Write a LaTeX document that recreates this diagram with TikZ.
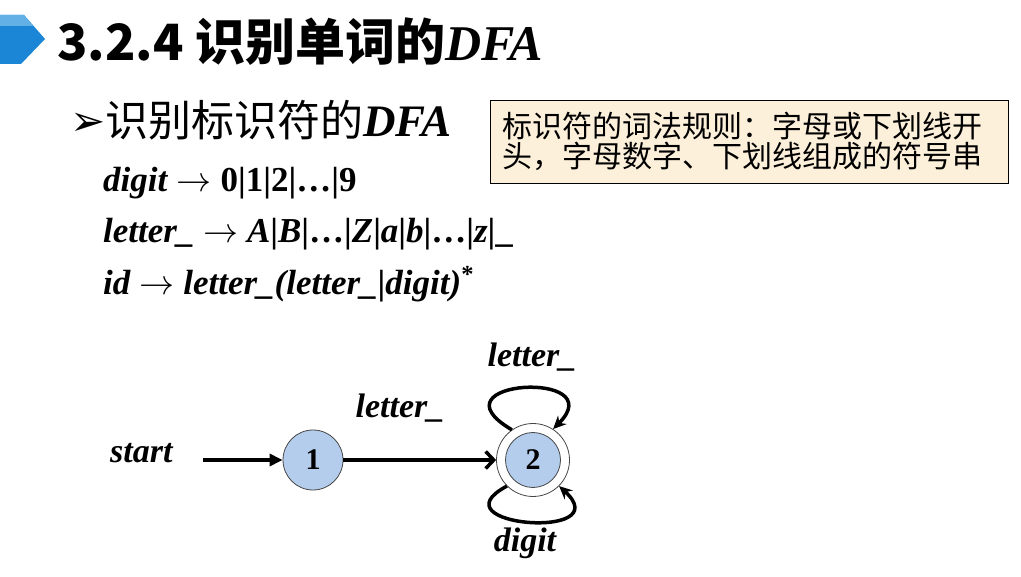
\documentclass[tikz,border=0pt]{standalone}
\usepackage{fix-cm}
\usepackage{fontspec}
\setmainfont{Liberation Serif}
\newfontfamily\cjk{Noto Sans CJK SC}
\newfontfamily\dingfont{DejaVu Sans}
\usetikzlibrary{arrows.meta}

\definecolor{icondark}{RGB}{28,134,214}
\definecolor{iconlight}{RGB}{98,176,229}
\definecolor{stateblue}{RGB}{181,205,236}
\definecolor{stateline}{RGB}{70,70,70}
\definecolor{notefill}{RGB}{253,240,219}

\tikzset{
  txt/.style={inner sep=0pt, anchor=base west},
  lbl/.style={inner sep=0pt, anchor=base, font=\fontsize{34}{34}\selectfont\bfseries\itshape},
  dfastate/.style={circle, draw=stateline, fill=stateblue, line width=0.8pt, minimum size=#1, inner sep=0pt, font=\fontsize{30}{30}\selectfont\bfseries},
  notebox/.style={draw=black, line width=0.8pt, fill=notefill, text width=494pt, inner xsep=12pt, inner ysep=0pt, minimum height=83pt, align=left, font=\cjk\fontsize{30}{30}\selectfont},
  startarrow/.style={line width=3.5pt, -{Triangle[length=13pt,width=12pt]}},
  trans/.style={line width=3.5pt, -{Straight Barb[length=8pt,width=17pt]}},
  selfloop/.style={line width=3.5pt, -{Stealth[length=13pt,width=12pt]}}
}
\newcommand{\rulefont}{\fontsize{35}{35}\selectfont\bfseries}
\newcommand{\ruleto}{\ $\rightarrow$\ }

\begin{document}
\begin{tikzpicture}[x=1pt,y=1pt]
\useasboundingbox (0,0) rectangle (1021,-577);
% title bar
\fill[icondark] (0,-15) -- (24,-15) -- (45,-39) -- (21,-64) -- (0,-64) -- cycle;
\fill[iconlight] (0,-15) -- (24,-15) -- (33,-26) -- (0,-26) -- cycle;
\node[txt, font=\fontsize{50}{50}\selectfont] (title) at (57,-61) {{\cjk\bfseries 3.2.4 识别单词的}{\bfseries\itshape DFA}};

% heading and rules
\node[txt, font=\fontsize{43}{43}\selectfont] (head) at (70,-137) {{\dingfont\fontsize{42}{42}\selectfont\raisebox{1pt}{➢}}{\cjk 识别标识符的}{\fontsize{45}{45}\selectfont\bfseries\itshape DFA}};
\node[txt, font=\rulefont] (rdigit) at (103,-192) {\textit{digit}\ruleto 0|1|2|…|9};
\node[txt, font=\rulefont] (rletter) at (103,-243) {\textit{letter\_}\ruleto\textit{A}|\textit{B}|…|\textit{Z}|\textit{a}|\textit{b}|…|\textit{z}|\_};
\node[txt, font=\rulefont] (rid) at (103,-295) {\textit{id}\ruleto\textit{letter\_(letter\_}|\textit{digit)}\textsuperscript{*}};

% note
\node[notebox] (note) at (749,-141.5) {标识符的词法规则：字母或下划线开\\头，字母数字、下划线组成的符号串};

% automaton
\node[lbl, anchor=base west] (start) at (110,-462) {start};
\coordinate (s0) at (203,-460);
\node[dfastate=60pt] (s1) at (313,-460) {1};
\node[circle, draw=stateline, fill=white, line width=0.8pt, minimum size=73pt] (s2) at (533,-460) {};
\node[dfastate=55pt] (s2in) at (s2) {2};

\draw[startarrow] (s0) -- (s1);
\draw[trans] (s1) -- (s2);
\draw[selfloop] (s2.125) .. controls +(-85,50) and +(60,60) .. (s2.57);
\draw[selfloop] (s2.225) .. controls +(-75,-40) and +(60,-55) .. (s2.315);

\node[lbl] (l12) at (400,-418) {letter\_};
\node[lbl] (l22) at (532,-367) {letter\_};
\node[lbl] (l22b) at (525,-551) {digit};
\end{tikzpicture}
\end{document}
